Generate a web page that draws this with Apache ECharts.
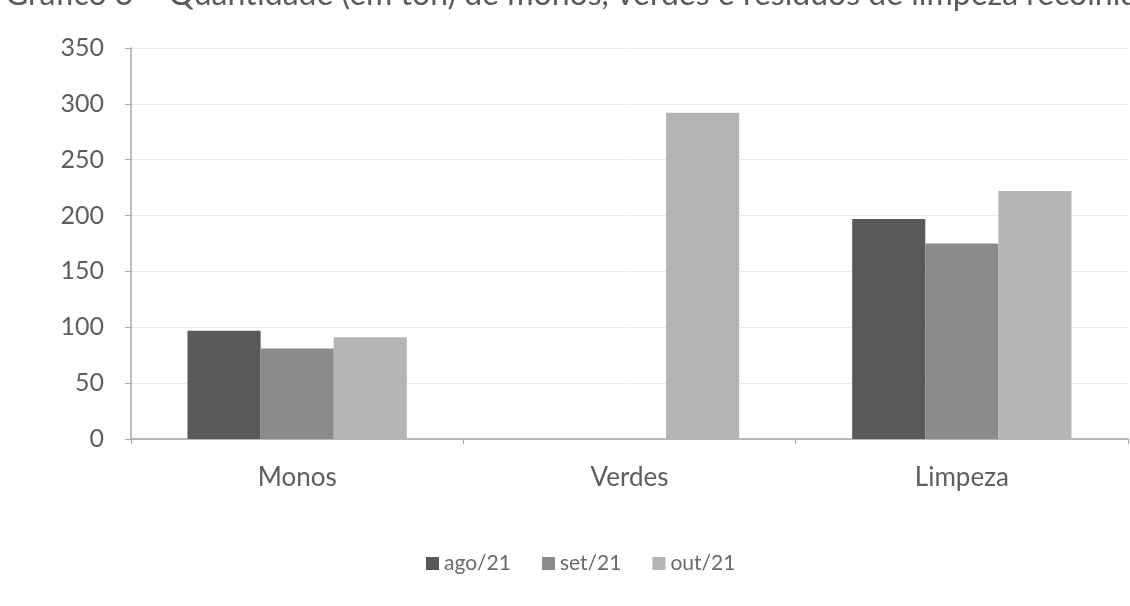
<!DOCTYPE html>
<html>
<head>
<meta charset="utf-8">
<style>
  html, body { margin: 0; padding: 0; background: #ffffff; }
  #chart { width: 1130px; height: 606px; }
</style>
<script src="https://cdn.jsdelivr.net/npm/echarts@6/dist/echarts.min.js"></script>
</head>
<body>
<div id="chart"></div>
<script>
// Quantidade recolhida (ton) por tipo de resíduo e mês
const categories = ['Monos', 'Verdes', 'Limpeza'];
const months = ['ago/21', 'set/21', 'out/21'];
const ago21 = [97, 0, 197];
const set21 = [81, 0, 175];
const out21 = [91, 292, 222];
const yTicks = [0, 50, 100, 150, 200, 250, 300, 350];
const titleText = 'Gráfico 3 – Quantidade (em ton) de monos, verdes e resíduos de limpeza recolhidos';

const colors = ['#595959', '#8a8a8a', '#b4b4b4'];
const font = 'Lato, "Open Sans", sans-serif';

const chart = echarts.init(document.getElementById('chart'), null, { renderer: 'canvas' });

const seriesData = [ago21, set21, out21];

chart.setOption({
  animation: false,
  backgroundColor: '#ffffff',
  color: colors,
  textStyle: { fontFamily: font },
  graphic: [{
    type: 'text',
    left: 5,
    top: -21,
    style: {
      text: titleText,
      fontFamily: font,
      fontSize: 32,
      fill: '#5a5a5a'
    }
  }],
  legend: {
    data: months,
    left: 421,
    top: 548,
    itemWidth: 13,
    itemHeight: 13,
    itemGap: 31,
    icon: 'rect',
    textStyle: { fontFamily: font, fontSize: 21, color: '#6a6a6a' }
  },
  grid: {
    left: 131,
    right: 2,
    top: 48,
    bottom: 167,
    containLabel: false,
    outerBoundsMode: 'none'
  },
  xAxis: {
    type: 'category',
    data: categories,
    axisLine: { show: true, lineStyle: { color: '#a6a6a6', width: 1.5 } },
    axisTick: { show: true, alignWithLabel: false, length: 5, lineStyle: { color: '#a6a6a6' } },
    axisLabel: { margin: 26, fontFamily: font, fontSize: 26, color: '#5e5e5e' },
    splitLine: { show: false }
  },
  yAxis: {
    type: 'value',
    min: yTicks[0],
    max: yTicks[yTicks.length - 1],
    interval: yTicks[1] - yTicks[0],
    axisLine: { show: true, lineStyle: { color: '#a6a6a6', width: 1.5 } },
    axisTick: { show: true, length: 6, lineStyle: { color: '#a6a6a6' } },
    axisLabel: { margin: 27, fontFamily: font, fontSize: 25, color: '#5e5e5e' },
    splitLine: { show: true, lineStyle: { color: '#ebebeb', width: 1 } }
  },
  series: months.map((m, i) => ({
    name: m,
    type: 'bar',
    data: seriesData[i],
    barGap: '0%',
    barCategoryGap: '34%',
    itemStyle: { color: colors[i] }
  }))
});
</script>
</body>
</html>
